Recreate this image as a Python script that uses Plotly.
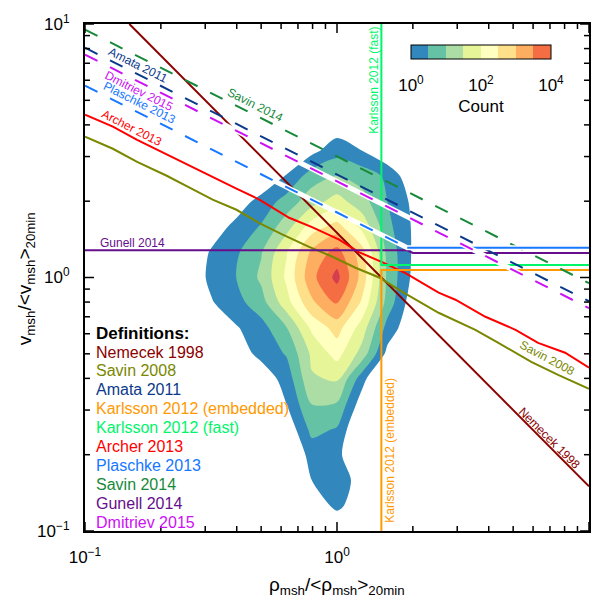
import plotly.graph_objects as go

FONT = "Liberation Sans, Arial, Helvetica, sans-serif"

# ---------------------------------------------------------------------------
# Occurrence histogram: log10(count) on a grid of log10(rho) x log10(v) bins
# ---------------------------------------------------------------------------
log_rho_bins = [-0.6, -0.5, -0.4, -0.3, -0.2, -0.1, 0.0, 0.1, 0.2, 0.3, 0.4]
log_v_bins = [-1.0, -0.9, -0.8, -0.7, -0.6, -0.5, -0.4, -0.3, -0.2,
              -0.1, 0.0, 0.1, 0.2, 0.3, 0.4, 0.5, 0.6]
log_count = [
    [-3.0, -2.8, -2.5, -2.1, -1.6, -1.0, -0.6, -1.0, -1.6, -2.2, -2.6],
    [-2.8, -2.5, -2.2, -1.8, -1.2, -0.4, 0.15, -0.4, -1.3, -2.0, -2.4],
    [-2.6, -2.3, -2.0, -1.6, -0.9, 0.0, 0.25, -0.2, -1.0, -1.7, -2.2],
    [-2.4, -2.1, -1.8, -1.3, -0.6, 0.2, 0.15, -0.6, -1.2, -1.8, -2.2],
    [-2.2, -1.9, -1.5, -1.0, -0.4, 0.65, 0.45, -0.7, -1.2, -1.7, -2.1],
    [-1.9, -1.6, -1.2, -0.6, 0.0, 1.0, 0.95, -0.3, -1.0, -1.5, -1.9],
    [-1.6, -1.3, -0.9, -0.32, 0.2, 1.45, 1.55, 0.2, -1.0, -1.5, -1.8],
    [-1.3, -0.8, -0.27, 0.15, 0.55, 1.6, 2.2, 1.3, -0.15, -1.0, -1.6],
    [-1.0, -0.5, -0.05, 0.3, 0.97, 2.1, 2.7, 1.75, 0.3, -0.4, -1.2],
    [-0.6, -0.05, 0.32, 0.8, 1.8, 2.9, 3.55, 2.4, 0.8, -0.3, -1.0],
    [-0.45, 0.12, 0.5, 1.1, 2.1, 3.35, 4.15, 2.8, 0.9, -0.1, -0.9],
    [-0.5, 0.05, 0.42, 0.97, 1.97, 3.1, 3.7, 2.7, 0.85, -0.05, -0.8],
    [-0.9, -0.3, 0.15, 0.55, 1.3, 2.25, 2.7, 1.85, 0.65, -0.05, -0.8],
    [-1.2, -0.8, -0.3, 0.2, 0.7, 1.3, 1.7, 1.2, 0.5, -0.1, -0.8],
    [-1.5, -1.2, -0.9, -0.5, 0.05, 0.75, 1.0, 0.8, 0.4, -0.4, -1.0],
    [-1.8, -1.6, -1.3, -1.0, -0.6, -0.15, 0.3, 0.0, -0.5, -1.0, -1.4],
    [-2.2, -2.0, -1.7, -1.4, -1.0, -0.8, -0.3, -0.4, -1.0, -1.4, -1.8],
]

# ---------------------------------------------------------------------------
# Jet definitions (rho/<rho>, v/<v>)
# ---------------------------------------------------------------------------
nemecek_rho = [0.15, 10.0]
nemecek_v = [10.0, 0.15]

savin2008_rho = [0.100, 0.129, 0.161, 0.211, 0.260, 0.321, 0.399, 0.492, 0.606,
                 0.775, 0.955, 1.19, 1.47, 1.81, 2.53, 3.54, 4.37, 5.90, 7.54, 10.0]
savin2008_v = [3.59, 3.22, 2.86, 2.52, 2.26, 2.03, 1.85, 1.64, 1.48,
               1.32, 1.21, 1.09, 1.00, 0.879, 0.726, 0.622, 0.552, 0.465, 0.413, 0.364]

archer_rho = [0.100, 0.129, 0.161, 0.201, 0.253, 0.321, 0.399, 0.492, 0.590, 0.646,
              0.796, 1.02, 1.22, 1.51, 1.87, 2.53, 2.95, 3.88, 5.11, 6.28, 8.04, 10.0]
archer_v = [4.39, 3.94, 3.49, 3.13, 2.79, 2.49, 2.24, 2.03, 1.82, 1.72,
            1.58, 1.41, 1.26, 1.15, 1.04, 0.871, 0.817, 0.700, 0.622, 0.552, 0.505, 0.441]

gunell_rho = [0.1, 1.9, 2.0, 10.0]
gunell_v = [1.28, 1.28, 1.25, 1.25]

karlsson_fast_rho = [1.5, 1.5, 10.0]
karlsson_fast_v = [10.0, 1.12, 1.12]

karlsson_emb_rho = [1.5, 1.5, 10.0]
karlsson_emb_v = [0.1, 1.07, 1.07]

amata_rho = [0.1, 10.0]
amata_v = [8.06, 0.806]

savin2014_rho = [0.1, 10.0]
savin2014_v = [9.5, 0.95]

plaschke_rho = [0.1, 1.9]
plaschke_v = [5.71, 1.31]
plaschke_flat_rho = [1.9, 10.0]
plaschke_flat_v = [1.31, 1.31]

dmitriev_rho = [0.1, 10.0]
dmitriev_v = [7.57, 0.757]

# colours
C_NEMECEK = "#8B0000"
C_SAVIN08 = "#7A8800"
C_AMATA = "#0B3A8C"
C_KEMB = "#FF9900"
C_KFAST = "#00F56A"
C_ARCHER = "#FF0000"
C_PLASCHKE = "#1677FF"
C_SAVIN14 = "#168A3A"
C_GUNELL = "#660E8C"
C_DMITRIEV = "#CC11F5"

band_colors = ["#3288bd", "#66c2a5", "#abdda4", "#e6f598",
               "#ffffbf", "#fee08b", "#fdae61", "#f46d43"]
peak_color = "#d53e4f"

# fill colours: below-first-level band transparent, then the eight bands, then peak
fill_cols = ["rgba(255,255,255,0)"] + band_colors + [peak_color]
fill_scale = [[k / 9, c] for k, c in enumerate(fill_cols)]

bar_scale = []
for k, c in enumerate(band_colors):
    bar_scale.append([k / 8, c])
    bar_scale.append([(k + 1) / 8, c])

fig = go.Figure()

fig.add_trace(go.Contour(
    x=[10 ** a for a in log_rho_bins],
    y=[10 ** b for b in log_v_bins],
    z=log_count,
    autocontour=False,
    contours=dict(start=0, end=4, size=0.5, coloring="fill", showlines=False),
    line=dict(width=0, smoothing=0.8),
    colorscale=fill_scale,
    showscale=False,
    hoverinfo="skip",
))

# colour bar (Count, logarithmic)
fig.add_trace(go.Scatter(
    x=[1.0], y=[1.0], mode="markers", hoverinfo="skip", showlegend=False,
    marker=dict(size=0, opacity=0, color=[0], cmin=0, cmax=4, colorscale=bar_scale,
                showscale=True,
                colorbar=dict(
                    orientation="h", x=0.7856, xanchor="center", y=0.959, yanchor="top",
                    len=0.2787, lenmode="fraction", thickness=14, xpad=0, ypad=0,
                    outlinecolor="black", outlinewidth=1,
                    tickvals=[0, 2, 4],
                    ticktext=["10<sup>0</sup>", "10<sup>2</sup>", "10<sup>4</sup>"],
                    ticks="outside", ticklen=12, tickcolor="rgba(0,0,0,0)",
                    tickfont=dict(family=FONT, size=17, color="black"),
                    title=dict(text="Count", side="bottom",
                               font=dict(family=FONT, size=17, color="black")),
                )),
))


def add_line(rho, v, color, dash="solid", width=2):
    fig.add_trace(go.Scatter(x=rho, y=v, mode="lines", hoverinfo="skip", showlegend=False,
                             line=dict(color=color, width=width, dash=dash)))


DASH = "14px,14px"

add_line(nemecek_rho, nemecek_v, C_NEMECEK)
add_line(savin2008_rho, savin2008_v, C_SAVIN08)
add_line(archer_rho, archer_v, C_ARCHER)
add_line(gunell_rho, gunell_v, C_GUNELL)
add_line(karlsson_emb_rho, karlsson_emb_v, C_KEMB)
add_line(karlsson_fast_rho, karlsson_fast_v, C_KFAST)
add_line(amata_rho, amata_v, C_AMATA, DASH)
add_line(savin2014_rho, savin2014_v, C_SAVIN14, DASH)
add_line(plaschke_rho + plaschke_flat_rho[1:], plaschke_v + plaschke_flat_v[1:], "white", width=5)
add_line(plaschke_rho, plaschke_v, C_PLASCHKE, DASH)
add_line(plaschke_flat_rho, plaschke_flat_v, C_PLASCHKE)
add_line(dmitriev_rho, dmitriev_v, "white", width=5)
add_line(dmitriev_rho, dmitriev_v, C_DMITRIEV, DASH)

# ---------------------------------------------------------------------------
# Inward tick marks on all four sides (major at decades, minor at 2..9),
# drawn as short line segments in axis units
# ---------------------------------------------------------------------------
PLOT_L, PLOT_R, PLOT_T, PLOT_B = 85, 591, 24, 531
PLOT_W, PLOT_H = PLOT_R - PLOT_L, PLOT_B - PLOT_T
X_LO, X_HI, Y_LO, Y_HI = 0.1, 10.0, 0.1, 10.0
DECADES = 2.0

major_vals = [0.1, 1, 10]
minor_vals = [m * 10 ** e for e in (-1, 0) for m in range(2, 10)]

tick_x, tick_y = [], []
for vals, ln in ((major_vals, 9), (minor_vals, 5)):
    kx = 10 ** (ln * DECADES / PLOT_W)   # tick length as a factor on the log x axis
    ky = 10 ** (ln * DECADES / PLOT_H)   # tick length as a factor on the log y axis
    for val in vals:
        tick_x += [val, val, None, val, val, None]
        tick_y += [Y_LO, Y_LO * ky, None, Y_HI, Y_HI / ky, None]
        tick_x += [X_LO, X_LO * kx, None, X_HI, X_HI / kx, None]
        tick_y += [val, val, None, val, val, None]

fig.add_trace(go.Scatter(x=tick_x, y=tick_y, mode="lines", hoverinfo="skip",
                         showlegend=False, cliponaxis=False,
                         line=dict(color="black", width=1.5)))

# ---------------------------------------------------------------------------
# Text
# ---------------------------------------------------------------------------


def px2paper(px, py):
    return (px - PLOT_L) / PLOT_W, (PLOT_B - py) / PLOT_H


annotations = []


def label(text, px, py, color, size=12, angle=0, xanchor="center", bold=False):
    xp, yp = px2paper(px, py)
    if bold:
        text = "<b>" + text + "</b>"
    annotations.append(dict(
        text=text, x=xp, y=yp, xref="paper", yref="paper", showarrow=False,
        xanchor=xanchor, yanchor="middle", textangle=angle,
        font=dict(family=FONT, size=size, color=color)))


# labels along the curves
label("Amata 2011", 138, 65, C_AMATA, angle=26.6)
label("Dmitriev 2015", 139, 91, C_DMITRIEV, angle=26.6)
label("Plaschke 2013", 140, 103, C_PLASCHKE, angle=26.6)
label("Archer 2013", 132, 128, C_ARCHER, angle=27)
label("Savin 2014", 256, 105, C_SAVIN14, angle=26.6)
label("Gunell 2014", 133, 243, C_GUNELL)
label("Savin 2008", 549, 358, C_SAVIN08, angle=28)
label("Nemecek 1998", 551, 438, C_NEMECEK, angle=45)
label("Karlsson 2012 (fast)", 375, 80, C_KFAST, angle=-90)
label("Karlsson 2012 (embedded)", 391, 450, C_KEMB, angle=-90)

# definitions list
definitions = [
    ("Nemecek 1998", C_NEMECEK),
    ("Savin 2008", C_SAVIN08),
    ("Amata 2011", C_AMATA),
    ("Karlsson 2012 (embedded)", C_KEMB),
    ("Karlsson 2012 (fast)", C_KFAST),
    ("Archer 2013", C_ARCHER),
    ("Plaschke 2013", C_PLASCHKE),
    ("Savin 2014", C_SAVIN14),
    ("Gunell 2014", C_GUNELL),
    ("Dmitriev 2015", C_DMITRIEV),
]
label("Definitions:", 94, 333, "black", size=17, xanchor="left", bold=True)
for i, (name, col) in enumerate(definitions):
    label(name, 94, 352 + 18.9 * i, col, size=16, xanchor="left")

# axis titles
label("ρ<sub>msh</sub>/&lt;ρ<sub>msh</sub>&gt;<sub>20min</sub>", 338, 586, "black", size=19)
label("v<sub>msh</sub>/&lt;v<sub>msh</sub>&gt;<sub>20min</sub>", 26, 279, "black", size=19, angle=-90)

tick_text = ["10<sup>−1</sup>", "10<sup>0</sup>", "10<sup>1</sup>"]

axis_common = dict(
    type="log", range=[-1, 1], showgrid=False, zeroline=False,
    showline=True, linecolor="black", linewidth=2, mirror=True,
    ticks="", tickvals=major_vals, ticktext=tick_text,
    tickfont=dict(family=FONT, size=17, color="black"),
)

fig.update_layout(
    width=601, height=603, autosize=False,
    margin=dict(l=PLOT_L, r=601 - PLOT_R, t=PLOT_T, b=603 - PLOT_B),
    paper_bgcolor="white", plot_bgcolor="white",
    showlegend=False,
    xaxis=dict(axis_common, ticklabelstandoff=10),
    yaxis=dict(axis_common, ticklabelstandoff=10),
    annotations=annotations,
    font=dict(family=FONT, color="black"),
)

fig.write_html("out.html")
